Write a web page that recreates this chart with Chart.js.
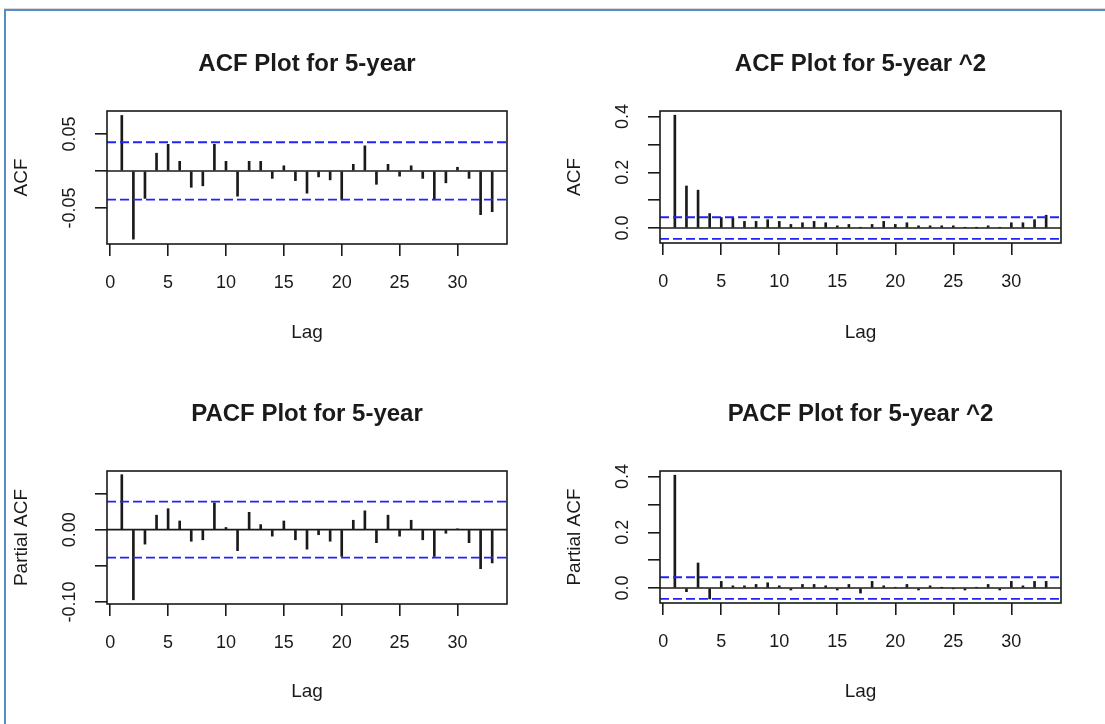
<!DOCTYPE html>
<html>
<head>
<meta charset="utf-8">
<script src="https://cdn.jsdelivr.net/npm/chart.js@4"></script>
<style>
    html, body { margin: 0; padding: 0; background: #fff; }
    #page { position: relative; width: 1105px; height: 724px; overflow: hidden; background: #fff; }
    #frame {
        position: absolute; left: 4px; top: 9px; width: 1200px; height: 800px;
        border-top: 2px solid #5b8ac8; border-left: 2px solid #5b8ac8;
        box-shadow: 0 -1px 0 #d9d9d9;
    }
    canvas { position: absolute; }
</style>
</head>
<body>
<div id="page">
    <div id="frame"></div>
    <canvas id="acf" width="540" height="362" style="left:10px;top:0px"></canvas>
    <canvas id="acfSq" width="540" height="362" style="left:563px;top:0px"></canvas>
    <canvas id="pacf" width="540" height="362" style="left:10px;top:362px"></canvas>
    <canvas id="pacfSq" width="540" height="362" style="left:563px;top:362px"></canvas>
</div>
<script>
// lags 1..33
const LAGS = Array.from({ length: 33 }, (_, i) => i + 1)

const acf5y = [
    0.075, -0.092, -0.037, 0.024, 0.036, 0.013, -0.022, -0.020, 0.036, 0.013,
    -0.034, 0.013, 0.013, -0.010, 0.007, -0.013, -0.030, -0.008, -0.012, -0.039,
    0.009, 0.034, -0.018, 0.009, -0.007, 0.007, -0.010, -0.039, -0.016, 0.005,
    -0.010, -0.059, -0.055
]
const acf5ySq = [
    0.405, 0.151, 0.136, 0.052, 0.038, 0.036, 0.024, 0.024, 0.030, 0.024,
    0.013, 0.019, 0.024, 0.019, 0.008, 0.013, 0.002, 0.013, 0.024, 0.013,
    0.019, 0.008, 0.008, 0.008, 0.008, 0.002, 0.001, 0.008, 0.002, 0.019,
    0.019, 0.030, 0.046
]
const pacf5y = [
    0.076, -0.097, -0.020, 0.020, 0.029, 0.012, -0.016, -0.014, 0.037, 0.003,
    -0.029, 0.024, 0.007, -0.009, 0.012, -0.014, -0.027, -0.007, -0.016, -0.037,
    0.013, 0.026, -0.018, 0.020, -0.009, 0.013, -0.014, -0.037, -0.005, 0.001,
    -0.018, -0.054, -0.046
]
const pacf5ySq = [
    0.405, -0.013, 0.090, -0.039, 0.024, 0.008, 0.008, 0.013, 0.019, 0.008,
    -0.007, 0.013, 0.013, 0.008, -0.007, 0.013, -0.018, 0.024, 0.008, 0.002,
    0.013, -0.007, 0.008, 0.001, -0.002, -0.007, 0.002, 0.013, -0.007, 0.024,
    0.008, 0.024, 0.024
]

// 95% bound, +/- 2/sqrt(n)
const CI = 0.0388

const X_MIN = -0.28
const X_MAX = 34.28
const X_TICKS = [0, 5, 10, 15, 20, 25, 30]

const Y_TICKS_ACF = [-0.05, 0, 0.05]
const Y_LABELS_ACF = ['-0.05', '', '0.05']
const Y_TICKS_SQ = [0, 0.1, 0.2, 0.3, 0.4]
const Y_LABELS_SQ = ['0.0', '', '0.2', '', '0.4']
const Y_TICKS_PACF = [-0.10, -0.05, 0, 0.05]
const Y_LABELS_PACF = ['-0.10', '', '0.00', '']

const FONT = "'Liberation Sans', Arial, sans-serif"
const INK = '#1a1a1a'
const TITLE_SIZE = 24
const AXIS_SIZE = 19
const TICK_SIZE = 18
const W = 540
const H = 362

const boxPlugin = {
    id: 'rbox',
    afterDatasetsDraw(chart) {
        const { ctx, chartArea } = chart
        ctx.save()
        ctx.strokeStyle = INK
        ctx.lineWidth = 1.6
        ctx.strokeRect(chartArea.left, chartArea.top, chartArea.right - chartArea.left, chartArea.bottom - chartArea.top)
        ctx.restore()
    }
}

// R writes y tick labels parallel to the axis
const yLabelPlugin = {
    id: 'ylabels',
    afterDraw(chart, args, opts) {
        const { ctx, chartArea } = chart
        const scale = chart.scales.y
        ctx.save()
        ctx.fillStyle = INK
        ctx.font = TICK_SIZE + 'px ' + FONT
        ctx.textAlign = 'center'
        ctx.textBaseline = 'middle'
        opts.values.forEach((v, i) => {
            const label = opts.labels[i]
            if (!label) return
            ctx.save()
            ctx.translate(chartArea.left - 37, scale.getPixelForValue(v))
            ctx.rotate(-Math.PI / 2)
            ctx.fillText(label, 0, 0)
            ctx.restore()
        })
        ctx.restore()
    }
}

function hLine(y, color, dash) {
    return {
        type: 'line',
        data: [{ x: X_MIN, y }, { x: X_MAX, y }],
        borderColor: color,
        borderWidth: dash ? 1.8 : 1.6,
        borderDash: dash || [],
        pointRadius: 0,
        order: 0
    }
}

function renderPanel(id, p) {

    const titleLh = TITLE_SIZE * 1.2
    const axisLh = AXIS_SIZE * 1.2
    const tickLh = TICK_SIZE * 1.2
    const xHeight = p.lagY - p.chartBottom + axisLh / 2

    new Chart(document.getElementById(id).getContext('2d'), {
        type: 'bar',
        data: {
            datasets: [
                {
                    type: 'bar',
                    data: LAGS.map((lag, i) => ({ x: lag, y: p.values[i] })),
                    backgroundColor: INK,
                    borderWidth: 0,
                    barThickness: 2,
                    order: 1
                },
                hLine(0, INK),
                hLine(CI, '#2323f5', [9, 4]),
                hLine(-CI, '#2323f5', [9, 4])
            ]
        },
        options: {
            responsive: false,
            animation: false,
            events: [],
            layout: {
                padding: { left: 0, top: 0, right: p.padRight, bottom: H - p.chartBottom - xHeight }
            },
            plugins: {
                legend: { display: false },
                tooltip: { enabled: false },
                title: {
                    display: true,
                    text: p.title,
                    fullSize: false,
                    color: INK,
                    font: { family: FONT, size: TITLE_SIZE, weight: 'bold', lineHeight: 1.2 },
                    padding: { top: p.titleY - titleLh / 2, bottom: p.chartTop - p.titleY - titleLh / 2 }
                },
                ylabels: { values: p.yTicks, labels: p.yLabels }
            },
            scales: {
                x: {
                    type: 'linear',
                    min: X_MIN,
                    max: X_MAX,
                    offset: false,
                    afterBuildTicks: scale => { scale.ticks = X_TICKS.map(v => ({ value: v })) },
                    afterFit: scale => { scale.height = xHeight },
                    grid: { offset: false, drawOnChartArea: false, drawTicks: true, tickLength: 12, color: INK, lineWidth: 1.6 },
                    border: { display: false },
                    ticks: {
                        color: INK,
                        font: { family: FONT, size: TICK_SIZE },
                        padding: 39 - 12 - tickLh / 2,
                        maxRotation: 0,
                        callback: v => String(v)
                    },
                    title: {
                        display: true,
                        text: 'Lag',
                        color: INK,
                        font: { family: FONT, size: AXIS_SIZE },
                        padding: 0
                    }
                },
                y: {
                    min: p.yMin,
                    max: p.yMax,
                    afterBuildTicks: scale => { scale.ticks = p.yTicks.map(v => ({ value: v })) },
                    afterFit: scale => { scale.width = p.chartLeft },
                    grid: { drawOnChartArea: false, drawTicks: true, tickLength: 12, color: INK, lineWidth: 1.6 },
                    border: { display: false },
                    ticks: { display: false },
                    title: {
                        display: true,
                        text: p.yTitle,
                        color: INK,
                        font: { family: FONT, size: AXIS_SIZE },
                        padding: { top: 0, bottom: 0 }
                    }
                }
            }
        },
        plugins: [boxPlugin, yLabelPlugin]
    })
}

renderPanel('acf', {
    title: 'ACF Plot for 5-year', yTitle: 'ACF', values: acf5y,
    yMin: -0.0986, yMax: 0.081, yTicks: Y_TICKS_ACF, yLabels: Y_LABELS_ACF,
    chartLeft: 97, padRight: 43, titleY: 64, chartTop: 111, chartBottom: 244, lagY: 333
})
renderPanel('acfSq', {
    title: 'ACF Plot for 5-year ^2', yTitle: 'ACF', values: acf5ySq,
    yMin: -0.0536, yMax: 0.42, yTicks: Y_TICKS_SQ, yLabels: Y_LABELS_SQ,
    chartLeft: 97, padRight: 42, titleY: 64, chartTop: 111, chartBottom: 243, lagY: 333
})
renderPanel('pacf', {
    title: 'PACF Plot for 5-year', yTitle: 'Partial ACF', values: pacf5y,
    yMin: -0.1028, yMax: 0.0811, yTicks: Y_TICKS_PACF, yLabels: Y_LABELS_PACF,
    chartLeft: 97, padRight: 43, titleY: 52, chartTop: 109, chartBottom: 242, lagY: 330
})
renderPanel('pacfSq', {
    title: 'PACF Plot for 5-year ^2', yTitle: 'Partial ACF', values: pacf5ySq,
    yMin: -0.0536, yMax: 0.42, yTicks: Y_TICKS_SQ, yLabels: Y_LABELS_SQ,
    chartLeft: 97, padRight: 42, titleY: 52, chartTop: 109, chartBottom: 241, lagY: 330
})
</script>
</body>
</html>
